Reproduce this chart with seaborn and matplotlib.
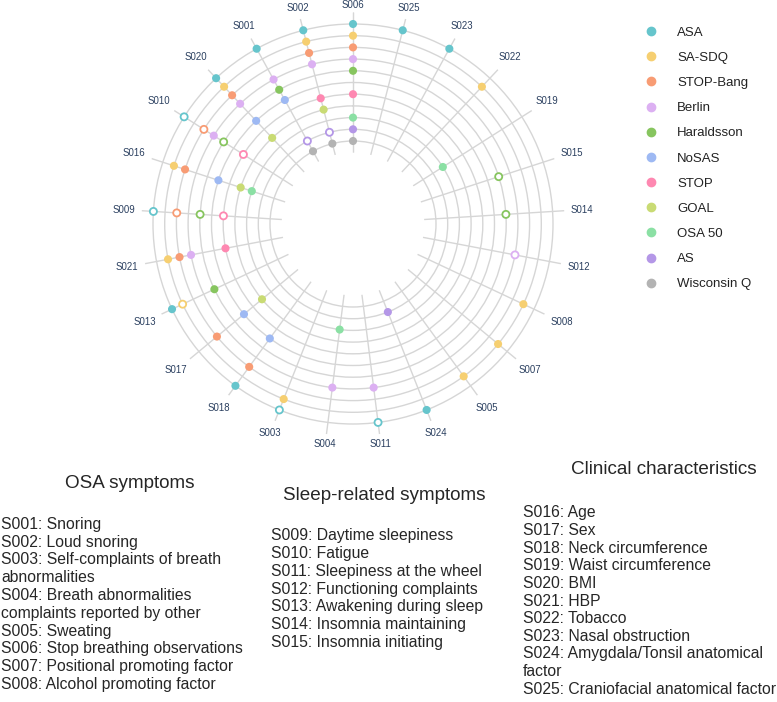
import numpy as np
import pandas as pd
import matplotlib
matplotlib.use("Agg")
import matplotlib.pyplot as plt
from matplotlib.lines import Line2D
import seaborn as sns

# spokes, clockwise from the top
symptoms = ["S006", "S025", "S023", "S022", "S019", "S015", "S014", "S012", "S008",
            "S007", "S005", "S024", "S011", "S004", "S003", "S018", "S017", "S013",
            "S021", "S009", "S016", "S010", "S020", "S001", "S002"]

# rings, outermost first
questionnaires = ["ASA", "SA-SDQ", "STOP-Bang", "Berlin", "Haraldsson", "NoSAS",
                  "STOP", "GOAL", "OSA 50", "AS", "Wisconsin Q"]
colors = ["#66c5cc", "#f6cf71", "#f89c74", "#dcb0f2", "#87c55f", "#9eb9f3",
          "#fe88b1", "#c9db74", "#8be0a4", "#b497e7", "#b3b3b3"]

# filled marker = item present, hollow marker = item present as secondary
filled = {
    "ASA": ["S006", "S025", "S023", "S024", "S018", "S013", "S020", "S001", "S002"],
    "SA-SDQ": ["S006", "S022", "S008", "S007", "S005", "S003", "S021", "S016", "S020", "S002"],
    "STOP-Bang": ["S006", "S018", "S017", "S021", "S016", "S020", "S002"],
    "Berlin": ["S006", "S011", "S004", "S021", "S010", "S020", "S001", "S002"],
    "Haraldsson": ["S006", "S013", "S001"],
    "NoSAS": ["S018", "S017", "S016", "S020", "S001"],
    "STOP": ["S006", "S021", "S002"],
    "GOAL": ["S017", "S016", "S020", "S002"],
    "OSA 50": ["S006", "S019", "S004", "S016"],
    "AS": ["S006", "S024"],
    "Wisconsin Q": ["S006", "S001", "S002"],
}
hollow = {
    "ASA": ["S011", "S003", "S009", "S010"],
    "SA-SDQ": ["S013"],
    "STOP-Bang": ["S009", "S010"],
    "Berlin": ["S012"],
    "Haraldsson": ["S015", "S014", "S009", "S010"],
    "STOP": ["S009", "S010"],
    "AS": ["S001", "S002"],
}

osa_text = ["S001: Snoring", "S002: Loud snoring", "S003: Self-complaints of breath",
            "abnormalities", "S004: Breath abnormalities", "complaints reported by other",
            "S005: Sweating", "S006: Stop breathing observations",
            "S007: Positional promoting factor", "S008: Alcohol promoting factor"]
sleep_text = ["S009: Daytime sleepiness", "S010: Fatigue", "S011: Sleepiness at the wheel",
              "S012: Functioning complaints", "S013: Awakening during sleep",
              "S014: Insomnia maintaining", "S015: Insomnia initiating"]
clin_text = ["S016: Age", "S017: Sex", "S018: Neck circumference", "S019: Waist circumference",
             "S020: BMI", "S021: HBP", "S022: Tobacco", "S023: Nasal obstruction",
             "S024: Amygdala/Tonsil anatomical", "factor", "S025: Craniofacial anatomical factor"]

sns.set_theme(style="white")
plt.rcParams["font.family"] = ["Liberation Sans", "DejaVu Sans"]
plt.rcParams["axes.edgecolor"] = "none"
plt.rcParams["axes.linewidth"] = 0

W, H = 777, 702
fig = plt.figure(figsize=(W / 100, H / 100), dpi=100)

# polar axes centred at (353, 224) px, outer edge 211.7 px
cx, cy, R = 353, 224, 211.7
ax = fig.add_axes([(cx - R) / W, (H - cy - R) / H, 2 * R / W, 2 * R / H], projection="polar")
ax.set_theta_zero_location("N")
ax.set_theta_direction(-1)

thetas = {s: 2 * np.pi * i / len(symptoms) for i, s in enumerate(symptoms)}
ring = {q: len(questionnaires) - i for i, q in enumerate(questionnaires)}

rows = []
for q in questionnaires:
    for s in filled.get(q, []):
        rows.append((thetas[s], ring[q], q, "filled"))
    for s in hollow.get(q, []):
        rows.append((thetas[s], ring[q], q, "hollow"))
df = pd.DataFrame(rows, columns=["theta", "r", "questionnaire", "kind"])
pal = dict(zip(questionnaires, colors))

sns.scatterplot(data=df[df.kind == "filled"], x="theta", y="r", hue="questionnaire",
                hue_order=questionnaires, palette=pal, s=34, linewidth=0,
                legend=False, ax=ax, zorder=3)
sns.scatterplot(data=df[df.kind == "hollow"], x="theta", y="r", hue="questionnaire",
                hue_order=questionnaires, palette=pal, s=26, linewidth=0,
                legend=False, ax=ax, zorder=3)
coll = ax.collections[-1]
fc = coll.get_facecolors()
coll.set_edgecolors(fc)
coll.set_facecolors("white")
coll.set_linewidths(1.3)

ax.set_rorigin(-71.3 / 11.7)
ax.set_ylim(0, 12)
ax.set_xticks([thetas[s] for s in symptoms])
ax.set_xticklabels([])
ax.set_yticks(range(1, 12))
ax.set_yticklabels([])
ax.grid(True, color="#d6d6d6", linewidth=1.0)
ax.set_axisbelow(True)
for sp in ax.spines.values():
    sp.set_visible(False)
ax.patch.set_visible(False)
ax.set_xlabel("")
ax.set_ylabel("")

# spoke labels just outside the spokes
for s in symptoms:
    t = thetas[s]
    ext = abs(np.sin(t)) * 17 + abs(np.cos(t)) * 7.5
    ax.annotate(s, xy=(t, 12), xytext=(np.sin(t) * ext * 0.72, np.cos(t) * ext * 0.72),
                textcoords="offset points", ha="center", va="center",
                fontsize=6.9, color="#2a3f5f", annotation_clip=False)

# legend
handles = [Line2D([], [], marker="o", ls="", color=c, markersize=6) for c in colors]
fig.legend(handles, questionnaires, loc="upper left",
           bbox_to_anchor=((651 - 6.6) / W, 1 - 26.5 / H), frameon=False,
           fontsize=9.5, handlelength=1.0, handletextpad=1.47, labelspacing=0.98,
           borderpad=0, borderaxespad=0, labelcolor="#222222")

# category text at the bottom
def px(x, y):
    return x / W, 1 - y / H

fig.text(*px(129.7, 483), "OSA symptoms", fontsize=13.6, ha="center", va="center")
fig.text(*px(384.7, 495), "Sleep-related symptoms", fontsize=13.6, ha="center", va="center")
fig.text(*px(664, 470), "Clinical characteristics", fontsize=13.6, ha="center", va="center")
columns = [(1, 524.3, 17.8, osa_text), (270.7, 535.7, 17.8, sleep_text),
           (523, 513, 17.6, clin_text)]
for x0, y0, step, lines in columns:
    for i, line in enumerate(lines):
        fig.text(*px(x0, y0 + i * step), line, fontsize=11.35, ha="left", va="center")

fig.savefig("out.png", dpi=100)
